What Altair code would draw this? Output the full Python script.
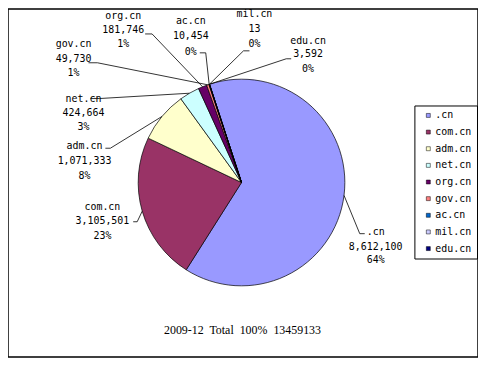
import math
import altair as alt
import pandas as pd

# ---------------- data ----------------
names = [".cn", "com.cn", "adm.cn", "net.cn", "org.cn", "gov.cn", "ac.cn", "mil.cn", "edu.cn"]
values = [8612100, 3105501, 1071333, 424664, 181746, 49730, 10454, 13, 3592]
pct_labels = ["64%", "23%", "8%", "3%", "1%", "1%", "0%", "0%", "0%"]
colors = ["#9999FF", "#993366", "#FFFFCC", "#CCFFFF", "#660066",
          "#FF8080", "#0066CC", "#CCCCFF", "#000080"]
title_text = "2009-12\u00a0 Total\u00a0 100%\u00a0 13459133"

# ---------------- layout (page px, minus page margin) ----------------
M = 8
W, H = 473, 350
CX, CY, R = 243 - M, 182.5 - M, 104
START_DEG = -18.0
FONT = "DejaVu Sans Mono"

# label layout: text centre x, line ys, elbow point, end point (page coords)
label_layout = {
    ".cn":    (378, [232, 247, 261], (362, 234), (367, 234)),
    "com.cn": (103, [207, 221, 236], (138, 222), (134, 222)),
    "adm.cn": (85,  [146, 161, 176], (111, 148), (106, 148)),
    "net.cn": (84,  [98, 113, 127],  (100, 98),  (91, 98)),
    "org.cn": (124, [15, 29, 43],    (153, 33),  (146, 33)),
    "gov.cn": (74,  [43, 58, 72],    (98, 62),   (89, 62)),
    "ac.cn":  (192, [20, 35, 51],    (207, 52),  (201, 52)),
    "mil.cn": (256, [13, 28, 43],    (245, 50),  (251, 50)),
    "edu.cn": (310, [40, 53, 68],    (288, 58),  (293, 58)),
}

total = sum(values)
slices = pd.DataFrame({"name": names, "value": values, "idx": list(range(len(names)))})

line_rows, text_rows = [], []
cum = 0
for n, v, p in zip(names, values, pct_labels):
    mid = (cum + v / 2) / total
    cum += v
    ang = math.radians(START_DEG + 360 * mid)
    ex, ey = CX + R * math.sin(ang), CY - R * math.cos(ang)
    tx, tys, elbow, end = label_layout[n]
    line_rows += [
        {"label": n, "seq": 0, "px": ex, "py": ey},
        {"label": n, "seq": 1, "px": elbow[0] - M, "py": elbow[1] - M},
        {"label": n, "seq": 2, "px": end[0] - M, "py": end[1] - M},
    ]
    for t, y in zip([n, f"{v:,}", p], tys):
        text_rows.append({"text": t, "tx": tx - M, "ty": y - M})

lines = pd.DataFrame(line_rows)
texts = pd.DataFrame(text_rows)

t0 = 2 * math.pi + math.radians(START_DEG)

arcs = alt.Chart(slices).mark_arc(outerRadius=R, stroke="black", strokeWidth=0.7).encode(
    theta=alt.Theta("value:Q", stack=True, scale=alt.Scale(range=[t0, t0 + 2 * math.pi])),
    color=alt.Color(
        "name:N",
        scale=alt.Scale(domain=names, range=colors),
        legend=alt.Legend(
            title=None, orient="none", legendX=409, legendY=97,
            symbolType="square", symbolSize=16, symbolStrokeColor="black",
            symbolStrokeWidth=0.5, labelFont=FONT, labelFontSize=10,
            labelColor="black", rowPadding=6.75, padding=5, symbolOffset=4,
            labelOffset=2, strokeColor="black", fillColor="white",
        ),
    ),
    order=alt.Order("idx:Q"),
    x=alt.value(CX),
    y=alt.value(CY),
)

leaders = alt.Chart(lines).mark_line(color="black", strokeWidth=0.8).encode(
    x=alt.X("px:Q", scale=None, axis=None),
    y=alt.Y("py:Q", scale=None, axis=None),
    detail="label:N",
    order="seq:Q",
)

labels = alt.Chart(texts).mark_text(font=FONT, fontSize=10, color="black").encode(
    x=alt.X("tx:Q", scale=None, axis=None),
    y=alt.Y("ty:Q", scale=None, axis=None),
    text="text:N",
)

title = alt.Chart(pd.DataFrame({"t": [title_text]})).mark_text(
    font="Liberation Serif", fontSize=12, color="black"
).encode(text="t:N", x=alt.value(244 - M), y=alt.value(331 - M))

chart = alt.layer(arcs, leaders, labels, title).properties(
    width=W, height=H, padding=0, autosize=alt.AutoSizeParams(type="none")
).configure_view(stroke="black", strokeWidth=1.5)

chart.save("out.html", embed_options={"renderer": "svg", "actions": False})
